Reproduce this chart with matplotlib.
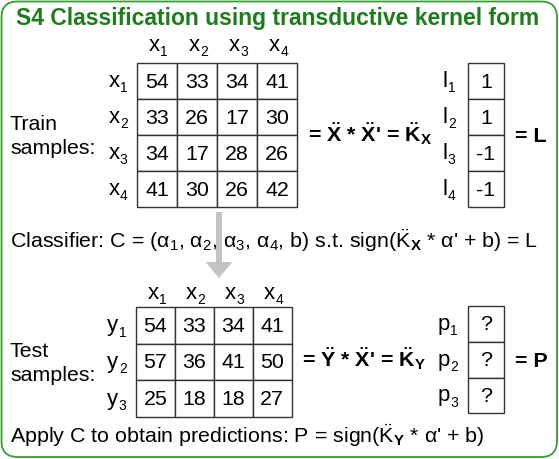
import matplotlib
matplotlib.use('Agg')
import matplotlib.pyplot as plt
from matplotlib.patches import FancyBboxPatch, Rectangle

plt.rcParams['font.family'] = ['Liberation Sans', 'DejaVu Sans']
plt.rcParams['mathtext.fontset'] = 'custom'
plt.rcParams['mathtext.rm'] = 'Liberation Sans'
plt.rcParams['mathtext.it'] = 'Liberation Sans:italic'
plt.rcParams['mathtext.bf'] = 'Liberation Sans:bold'
plt.rcParams['mathtext.default'] = 'regular'

# data
title = 'S4 Classification using transductive kernel form'
col_labels = [('x', '1'), ('x', '2'), ('x', '3'), ('x', '4')]
train_rows = [('x', '1'), ('x', '2'), ('x', '3'), ('x', '4')]
test_rows = [('y', '1'), ('y', '2'), ('y', '3')]
train_kernel = [[54, 33, 34, 41],
                [33, 26, 17, 30],
                [34, 17, 28, 26],
                [41, 30, 26, 42]]
test_kernel = [[54, 33, 34, 41],
               [57, 36, 41, 50],
               [25, 18, 18, 27]]
label_names = [('l', '1'), ('l', '2'), ('l', '3'), ('l', '4')]
label_values = ['1', '1', '-1', '-1']
pred_names = [('p', '1'), ('p', '2'), ('p', '3')]
pred_values = ['?', '?', '?']

train_eq = "= $\\ddot{X}$ * $\\ddot{X}$' = $\\ddot{K}_X$"
test_eq = "= $\\ddot{Y}$ * $\\ddot{X}$' = $\\ddot{K}_Y$"
classifier_text = ("Classifier: C = ($\\alpha_1$, $\\alpha_2$, $\\alpha_3$, $\\alpha_4$, b) "
                   "s.t. sign($\\ddot{K}_{\\mathbf{X}}$ * \u03b1' + b) = L")
apply_text = "Apply C to obtain predictions: P = sign($\\ddot{K}_{\\mathbf{Y}}$ * \u03b1' + b)"

green_edge = '#3c9a32'
green_title = '#1d7d1d'
grid_color = '#333333'
fs = 15.4       # running text
fs_num = 15.4   # numbers in the cells
fs_lab = 16     # x, y, l, p labels
fs_sub = 10     # their subscripts


def sub_label(ax, x, y, name, sub_drop=5.5):
    # main letter ends at x, subscript starts right after it
    letter, idx = name
    ax.text(x, y, letter, ha='right', va='baseline', fontsize=fs_lab, zorder=3)
    ax.text(x + 0.3, y + sub_drop, idx, ha='left', va='baseline', fontsize=fs_sub, zorder=3)


def draw_matrix(ax, values, left, top, cw, ch, rows=None, cols=None,
                row_gap=17.5, head_gap=12):
    nr = len(values)
    nc = len(values[0])
    for i in range(nr):
        for j in range(nc):
            ax.add_patch(Rectangle((left + j * cw, top + i * ch), cw, ch,
                                   facecolor='white', edgecolor=grid_color, lw=1.0, zorder=2))
            ax.text(left + (j + 0.5) * cw, top + (i + 0.5) * ch + 6.5, str(values[i][j]),
                    ha='center', va='baseline', fontsize=fs_num, zorder=3)
    if rows is not None:
        for i, r in enumerate(rows):
            sub_label(ax, left - row_gap, top + (i + 0.5) * ch + 6, r)
    if cols is not None:
        for j, c in enumerate(cols):
            sub_label(ax, left + (j + 0.5) * cw + 3, top - head_gap, c)


fig = plt.figure(figsize=(5.59, 4.59), dpi=100)
ax = fig.add_axes([0, 0, 1, 1])
ax.set_xlim(0, 559)
ax.set_ylim(459, 0)
ax.axis('off')

# frame
ax.add_patch(FancyBboxPatch((1.5, 1.5), 555.5, 455.5,
                            boxstyle='round,pad=0,rounding_size=16',
                            facecolor='white', edgecolor=green_edge, lw=1.3, zorder=0))
ax.text(16, 25, title, fontsize=16.5, fontweight='bold', color=green_title,
        ha='left', va='baseline')

# arrow
ax.arrow(219, 212, 0, 66, width=6, head_width=27, head_length=16,
         length_includes_head=True, color='#c3c3c3', lw=0, zorder=1)

# train part
draw_matrix(ax, train_kernel, 137, 63, 40, 36, rows=train_rows, cols=col_labels,
            head_gap=12)
ax.text(10, 130, 'Train', fontsize=fs, ha='left', va='baseline')
ax.text(10, 154, 'samples:', fontsize=fs, ha='left', va='baseline')
ax.text(308, 142, train_eq, fontsize=fs, fontweight='bold', ha='left', va='baseline')
draw_matrix(ax, [[v] for v in label_values], 468, 63, 36, 36, rows=label_names,
            row_gap=20.5)
ax.text(515, 142, '= L', fontsize=fs, fontweight='bold', ha='left', va='baseline')

ax.text(10, 248, classifier_text, fontsize=fs, ha='left', va='baseline', zorder=3)

# test part
draw_matrix(ax, test_kernel, 136, 307, 38.9, 36.6, rows=test_rows, cols=col_labels,
            head_gap=8)
ax.text(10, 357, 'Test', fontsize=fs, ha='left', va='baseline')
ax.text(10, 381, 'samples:', fontsize=fs, ha='left', va='baseline')
ax.text(302, 367, test_eq, fontsize=fs, fontweight='bold', ha='left', va='baseline')
draw_matrix(ax, [[v] for v in pred_values], 468, 306, 36, 35.8, rows=pred_names,
            row_gap=18)
ax.text(515, 367, '= P', fontsize=fs, fontweight='bold', ha='left', va='baseline')

ax.text(10, 443, apply_text, fontsize=fs, ha='left', va='baseline')

fig.savefig('out.png', dpi=100)
